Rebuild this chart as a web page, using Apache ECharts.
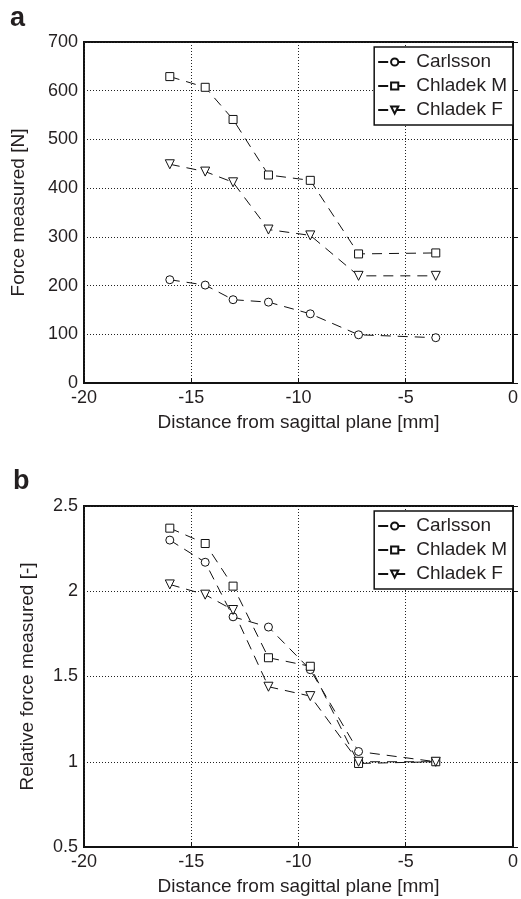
<!DOCTYPE html>
<html>
<head>
<meta charset="utf-8">
<script src="https://cdn.jsdelivr.net/npm/echarts@6/dist/echarts.min.js"></script>
<style>html,body{margin:0;padding:0;background:#fff;}#c{width:521px;height:899px;}</style>
</head>
<body>
<div id="c"></div>
<script>
var seriesNames = ['Carlsson', 'Chladek M', 'Chladek F'];
var xValues = [-16, -14.35, -13.05, -11.4, -9.45, -7.2, -3.6];
var forceCarlsson = [212, 201, 171, 166, 142, 99, 93];
var forceChladekM = [629, 607, 541, 427, 416, 265, 267];
var forceChladekF = [449, 434, 412, 315, 303, 220, 220];
var relCarlsson = [2.30, 2.17, 1.85, 1.79, 1.54, 1.06, 1.00];
var relChladekM = [2.37, 2.28, 2.03, 1.61, 1.56, 0.99, 1.00];
var relChladekF = [2.04, 1.98, 1.89, 1.44, 1.385, 1.00, 1.00];
var xLabel = 'Distance from sagittal plane [mm]';
var yLabelTop = 'Force measured [N]';
var yLabelBottom = 'Relative force measured [-]';

var FONT = 'Liberation Sans, Arial, Helvetica, sans-serif';
var TXT = '#231f20';
var symbols = ['circle', 'rect', 'triangle'];
var symbolSizes = [8, 8, 9];
var rotates = [0, 0, 180];

function pairs(vals) { return vals.map(function (v, i) { return [xValues[i], v]; }); }

function mkSeries(idx, name, vals) {
  var k = seriesNames.indexOf(name);
  return {
    type: 'line', name: name, xAxisIndex: idx, yAxisIndex: idx,
    data: pairs(vals),
    symbol: symbols[k], symbolSize: symbolSizes[k], symbolRotate: rotates[k],
    showAllSymbol: true,
    lineStyle: { color: '#111', width: 1, type: [10, 7] },
    itemStyle: { color: '#fff', borderColor: '#111', borderWidth: 1 },
    emphasis: { disabled: true },
    z: 3
  };
}

function mkX(idx) {
  return {
    type: 'value', gridIndex: idx, min: -20, max: 0, interval: 5,
    name: xLabel, nameLocation: 'middle', nameGap: 30,
    nameTextStyle: { fontFamily: FONT, fontSize: 19, color: TXT },
    axisLine: { show: true, onZero: false, lineStyle: { color: '#111', width: 2 } },
    axisTick: { show: true, inside: true, length: 5, lineStyle: { color: '#111' } },
    axisLabel: { fontFamily: FONT, fontSize: 18, color: TXT, margin: 6 },
    splitLine: { show: true, lineStyle: { color: '#222', width: 1, type: [1, 2] } }
  };
}

function mkY(idx, min, max, interval, name, gap) {
  return {
    type: 'value', gridIndex: idx, min: min, max: max, interval: interval,
    name: name, nameLocation: 'middle', nameGap: gap, nameRotate: 90,
    nameTextStyle: { fontFamily: FONT, fontSize: 19, color: TXT },
    axisLine: { show: true, lineStyle: { color: '#111', width: 2 } },
    axisTick: { show: true, inside: true, length: 5, lineStyle: { color: '#111' } },
    axisLabel: { fontFamily: FONT, fontSize: 18, color: TXT, margin: 6 },
    splitLine: { show: true, lineStyle: { color: '#222', width: 1, type: [1, 2] } }
  };
}

function mkLegend(top) {
  return {
    data: seriesNames, orient: 'vertical', right: 8, top: top,
    backgroundColor: '#fff', borderColor: '#111', borderWidth: 1.5,
    padding: [5, 6, 5, 3], itemGap: 4, itemWidth: 33, itemHeight: 9,
    textStyle: { fontFamily: FONT, fontSize: 19, color: TXT, lineHeight: 20 },
    selectedMode: false
  };
}

var chart = echarts.init(document.getElementById('c'), null, { renderer: 'canvas' });
chart.setOption({
  animation: false,
  backgroundColor: '#fff',
  title: [
    { text: 'a', left: 5, top: 0, textStyle: { fontFamily: FONT, fontSize: 27, fontWeight: 'bold', color: TXT } },
    { text: 'b', left: 8, top: 463, textStyle: { fontFamily: FONT, fontSize: 27, fontWeight: 'bold', color: TXT } }
  ],
  grid: [
    { left: 84, top: 42, width: 433, height: 341, show: true, borderColor: '#111', borderWidth: 2, backgroundColor: 'transparent' },
    { left: 84, top: 506, width: 433, height: 341, show: true, borderColor: '#111', borderWidth: 2, backgroundColor: 'transparent' }
  ],
  legend: [mkLegend(47), mkLegend(511)],
  xAxis: [mkX(0), mkX(1)],
  yAxis: [
    mkY(0, 0, 700, 100, yLabelTop, 56),
    mkY(1, 0.5, 2.5, 0.5, yLabelBottom, 47)
  ],
  series: [
    mkSeries(0, 'Carlsson', forceCarlsson),
    mkSeries(0, 'Chladek M', forceChladekM),
    mkSeries(0, 'Chladek F', forceChladekF),
    mkSeries(1, 'Carlsson', relCarlsson),
    mkSeries(1, 'Chladek M', relChladekM),
    mkSeries(1, 'Chladek F', relChladekF)
  ]
});
</script>
</body>
</html>
